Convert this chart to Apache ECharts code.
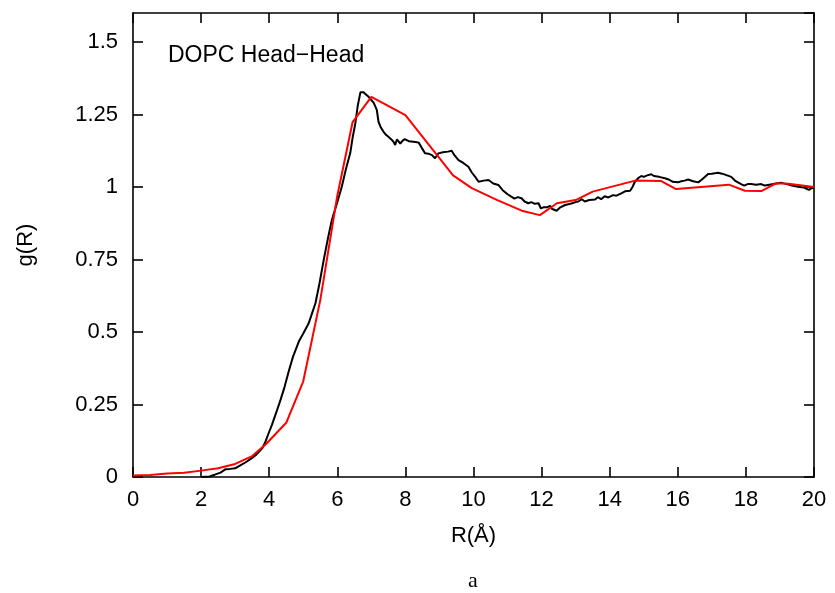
<!DOCTYPE html>
<html>
<head>
<meta charset="utf-8">
<script src="https://cdn.jsdelivr.net/npm/echarts@6/dist/echarts.min.js"></script>
<style>html,body{margin:0;padding:0;background:#fff}#c{width:835px;height:593px}</style>
</head>
<body>
<div id="c"></div>
<script>
// Experimental g(R) (black)
const expR = [2.0,2.25,2.4,2.57,2.72,2.85,3.0,3.15,3.3,3.49,3.6,3.7,3.8,3.89,3.98,4.08,4.2,4.33,4.45,4.57,4.7,4.87,5.0,5.16,5.26,5.36,5.48,5.6,5.72,5.84,5.98,6.13,6.25,6.38,6.45,6.53,6.6,6.68,6.77,6.85,6.92,7.0,7.07,7.16,7.21,7.28,7.36,7.43,7.5,7.58,7.65,7.7,7.75,7.8,7.85,7.92,7.98,8.1,8.24,8.3,8.39,8.48,8.58,8.68,8.78,8.87,8.97,9.1,9.25,9.36,9.45,9.56,9.7,9.85,9.95,10.05,10.15,10.3,10.44,10.58,10.73,10.85,11.0,11.11,11.2,11.3,11.41,11.5,11.61,11.7,11.8,11.91,11.98,12.05,12.15,12.25,12.3,12.44,12.55,12.69,12.85,13.0,13.08,13.18,13.27,13.4,13.57,13.65,13.75,13.85,13.96,14.1,14.2,14.34,14.45,14.6,14.67,14.74,14.85,14.93,15.0,15.1,15.22,15.3,15.45,15.62,15.75,15.85,16.01,16.1,16.2,16.3,16.45,16.6,16.7,16.8,16.89,17.0,17.18,17.3,17.45,17.57,17.7,17.86,17.95,18.05,18.15,18.3,18.45,18.55,18.65,18.8,19.03,19.2,19.35,19.53,19.7,19.85,19.91,20.0];
const expG = [0,0.002,0.008,0.015,0.027,0.028,0.03,0.04,0.05,0.065,0.075,0.087,0.1,0.122,0.15,0.18,0.22,0.265,0.31,0.363,0.415,0.467,0.495,0.53,0.565,0.6,0.67,0.748,0.82,0.886,0.94,1.0,1.06,1.117,1.17,1.22,1.28,1.327,1.327,1.318,1.311,1.30,1.29,1.266,1.225,1.205,1.19,1.18,1.173,1.165,1.156,1.145,1.164,1.158,1.15,1.16,1.165,1.158,1.156,1.155,1.153,1.135,1.116,1.115,1.11,1.099,1.116,1.12,1.122,1.125,1.108,1.093,1.083,1.07,1.05,1.035,1.018,1.022,1.024,1.012,1.007,0.99,0.975,0.967,0.96,0.965,0.961,0.95,0.944,0.948,0.942,0.944,0.926,0.93,0.93,0.935,0.925,0.918,0.93,0.938,0.942,0.948,0.95,0.958,0.95,0.955,0.957,0.965,0.958,0.968,0.964,0.972,0.97,0.978,0.985,0.987,1.0,1.018,1.032,1.038,1.035,1.04,1.044,1.038,1.035,1.03,1.025,1.018,1.016,1.02,1.022,1.026,1.02,1.016,1.025,1.035,1.045,1.046,1.049,1.046,1.04,1.035,1.02,1.01,1.005,1.01,1.01,1.008,1.01,1.005,1.007,1.01,1.015,1.01,1.005,1.001,0.998,0.99,0.995,0.998];
// Simulated g(R) (red)
const simR = [0,0.5,1.0,1.5,2.0,2.5,3.0,3.5,3.9,4.5,5.0,5.5,6.0,6.45,7.0,8.0,9.4,9.95,10.7,11.45,11.95,12.45,13.0,13.5,14.75,15.5,15.95,17.5,17.97,18.45,18.9,19.25,20.0];
const simG = [0.005,0.007,0.012,0.015,0.022,0.03,0.045,0.072,0.113,0.187,0.33,0.61,0.97,1.224,1.311,1.248,1.04,0.996,0.955,0.917,0.903,0.944,0.955,0.984,1.022,1.021,0.993,1.008,0.987,0.986,1.013,1.011,1.0];
const xTicks = {min:0, max:20, interval:2};
const yTicks = {min:0, max:1.6, interval:0.25};
const titleText = 'DOPC Head\u2212Head';
const xName = 'R(\u00C5)';
const yName = 'g(R)';
const caption = 'a';

const chart = echarts.init(document.getElementById('c'), null, {renderer:'canvas'});
const F = '"Liberation Sans", Arial, sans-serif';
const axisLine = {show:true, onZero:false, lineStyle:{color:'#000', width:1.6}};
const tick = {show:true, inside:true, length:10, lineStyle:{color:'#000', width:1.6}};
chart.setOption({
  animation:false,
  backgroundColor:'#fff',
  grid:{left:133, right:21, top:13, bottom:116},
  xAxis:[
    {type:'value', position:'bottom', min:xTicks.min, max:xTicks.max, interval:xTicks.interval,
     axisLine, axisTick:tick, splitLine:{show:false},
     axisLabel:{color:'#000', fontFamily:F, fontSize:22, margin:12},
     name:xName, nameLocation:'middle', nameGap:48, nameTextStyle:{color:'#000', fontFamily:F, fontSize:22}},
    {type:'value', position:'top', min:xTicks.min, max:xTicks.max, interval:xTicks.interval,
     axisLine, axisTick:tick, splitLine:{show:false}, axisLabel:{show:false}}
  ],
  yAxis:[
    {type:'value', position:'left', min:yTicks.min, max:yTicks.max, interval:yTicks.interval,
     axisLine, axisTick:tick, splitLine:{show:false},
     axisLabel:{color:'#000', fontFamily:F, fontSize:22, margin:15, showMaxLabel:false},
     name:yName, nameLocation:'middle', nameGap:96, nameTextStyle:{color:'#000', fontFamily:F, fontSize:22}},
    {type:'value', position:'right', min:yTicks.min, max:yTicks.max, interval:yTicks.interval,
     axisLine, axisTick:tick, splitLine:{show:false}, axisLabel:{show:false}}
  ],
  series:[
    {type:'line', name:'exp', xAxisIndex:0, yAxisIndex:0, showSymbol:false, symbol:'none',
     lineStyle:{color:'#000', width:2}, data:expR.map((r,i)=>[r,expG[i]]), z:2},
    {type:'line', name:'sim', xAxisIndex:0, yAxisIndex:0, showSymbol:false, symbol:'none',
     lineStyle:{color:'#ff0000', width:2}, data:simR.map((r,i)=>[r,simG[i]]), z:3}
  ],
  graphic:[
    {type:'text', left:168, top:44, style:{text:titleText, font:'23px '+F, fill:'#000'}},
    {type:'text', x:473, y:581, style:{text:caption, font:'22px "Liberation Serif", "DejaVu Serif", serif', fill:'#000', align:'center', verticalAlign:'middle'}}
  ]
});
</script>
</body>
</html>
